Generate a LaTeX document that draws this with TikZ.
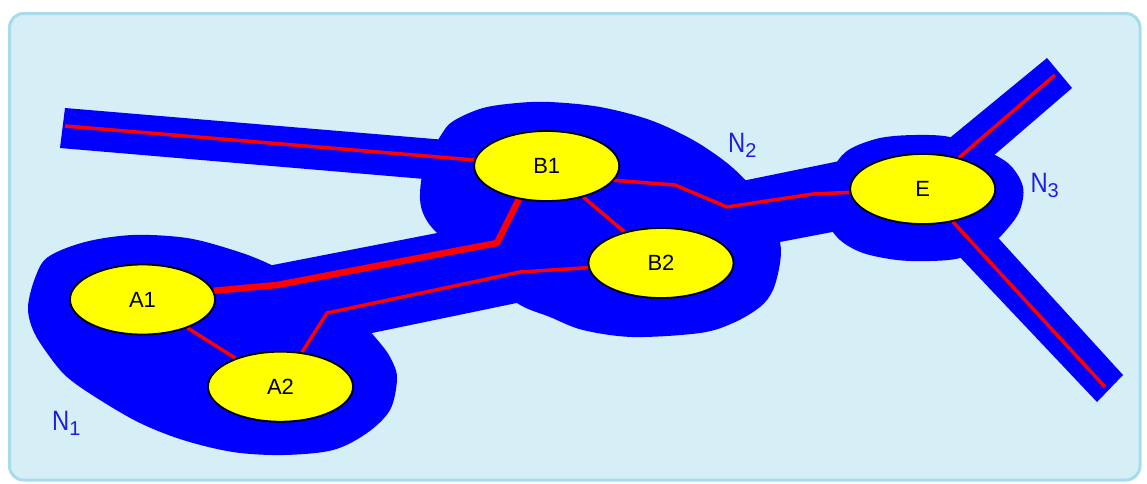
\documentclass[tikz,border=0pt]{standalone}
\usepackage{fontspec}
\setmainfont{Liberation Sans}
\usetikzlibrary{shapes.geometric}
\definecolor{bgfill}{RGB}{214,238,246}
\definecolor{bgline}{RGB}{168,220,235}
\definecolor{netblue}{RGB}{0,0,255}
\definecolor{linkred}{RGB}{255,0,0}
\definecolor{hostyellow}{RGB}{255,255,0}
\definecolor{labelblue}{RGB}{30,30,225}
\pgfdeclarelayer{bg}
\pgfsetlayers{bg,main}
\tikzset{
  host/.style={ellipse, draw=black, line width=1.8pt, fill=hostyellow,
    minimum width=145pt, minimum height=70pt, inner sep=0pt,
    font=\fontsize{22}{22}\selectfont},
  link/.style={draw=linkred, line width=3.5pt, line join=round},
  trunk/.style={draw=linkred, line width=6.5pt, line join=round},
  net/.style={fill=netblue},
  netlabel/.style={text=labelblue, anchor=base west, inner sep=0pt,
    font=\fontsize{28}{28}\selectfont},
  frame/.style={draw=bgline, fill=bgfill, line width=3pt, rounded corners=14pt}
}
\newcommand{\netname}[1]{\scalebox{0.85}[1]{N}\raisebox{-5pt}{\fontsize{20}{20}\selectfont #1}}
\begin{document}
\begin{tikzpicture}[x=1pt,y=-1pt]
\useasboundingbox (0,0) rectangle (1147,483);
% hosts
\node[host] (A1) at (142.5,299.5) {A1};
\node[host] (A2) at (280.5,386.7) {A2};
\node[host] (B1) at (546.7,166) {B1};
\node[host] (B2) at (661,263) {B2};
\node[host] (E) at (922.7,189) {E};
% network labels
\node[netlabel] (N1) at (52,430.7) {\netname{1}};
\node[netlabel] (N2) at (728,152.3) {\netname{2}};
\node[netlabel] (N3) at (1030.3,192.3) {\netname{3}};
% route points
\coordinate (w) at (65,126);
\coordinate (t1) at (277,285);
\coordinate (t2) at (497,243);
\coordinate (s1) at (327,313);
\coordinate (s2) at (520,272);
\coordinate (r1) at (675,185);
\coordinate (r2) at (727,207);
\coordinate (r3) at (813,194);
\coordinate (ne) at (1055,75);
\coordinate (se) at (1105,387);
\begin{pgfonlayer}{bg}
\draw[frame] (9.5,13.5) rectangle (1140,480);
% network N1
\fill[netblue] plot[smooth cycle, tension=0.55] coordinates {
  (265,262) (233,250) (187,238) (133,235) (85,242) (48,257) (35,278)
  (28,307) (33,330) (47,353) (67,377) (100,400) (140,423) (183,440)
  (233,452) (283,455) (333,450) (367,433) (390,410) (397,380) (393,363)
  (380,343) (340,300) (300,280)};
% network N2
\fill[netblue] plot[smooth cycle, tension=0.55] coordinates {
  (443,132) (455,120) (483,108) (517,103) (550,102) (600,107) (650,120)
  (693,140) (727,163) (750,185) (770,210) (780,242) (780,263) (773,290)
  (760,307) (733,323) (700,333) (633,337) (583,330) (550,317) (517,303)
  (480,270) (437,233) (423,213) (420,193) (425,165)};
% network N3
\fill[netblue] plot[smooth cycle, tension=0.55] coordinates {
  (835,165) (850,149) (880,138) (915,135) (950,137) (985,150) (1010,165)
  (1023,187) (1020,210) (1008,228) (990,245) (960,258) (930,261)
  (897,260) (863,253) (840,240) (826,220) (822,195)};
% strips
\fill[net] (65,108) -- (470,142) -- (460,182) -- (60,148) -- cycle;
\fill[net] (240,271.4) -- (470,226.6) -- (560,294) -- (340,339.6) -- cycle;
\fill[net] (720,185.5) -- (870,154.8) -- (870,224.8) -- (740,249.6) -- cycle;
\fill[net] (929,155) -- (1047,58) -- (1072,88) -- (978,169) -- cycle;
\fill[net] (980,218) -- (1123,375) -- (1097,402) -- (940,236) -- cycle;
% links
\draw[link] (w) -- (B1);
\draw[trunk] (A1.7) -- (t1) -- (t2) -- (B1.230);
\draw[link] (A1) -- (A2);
\draw[link] (A2.58) -- (s1) -- (s2) -- (B2);
\draw[link] (B1) -- (B2);
\draw[link] (B1.-12) -- (r1) -- (r2) -- (r3) -- (E);
\draw[link] (E) -- (ne);
\draw[link] (E) -- (se);
\end{pgfonlayer}
\end{tikzpicture}
\end{document}
